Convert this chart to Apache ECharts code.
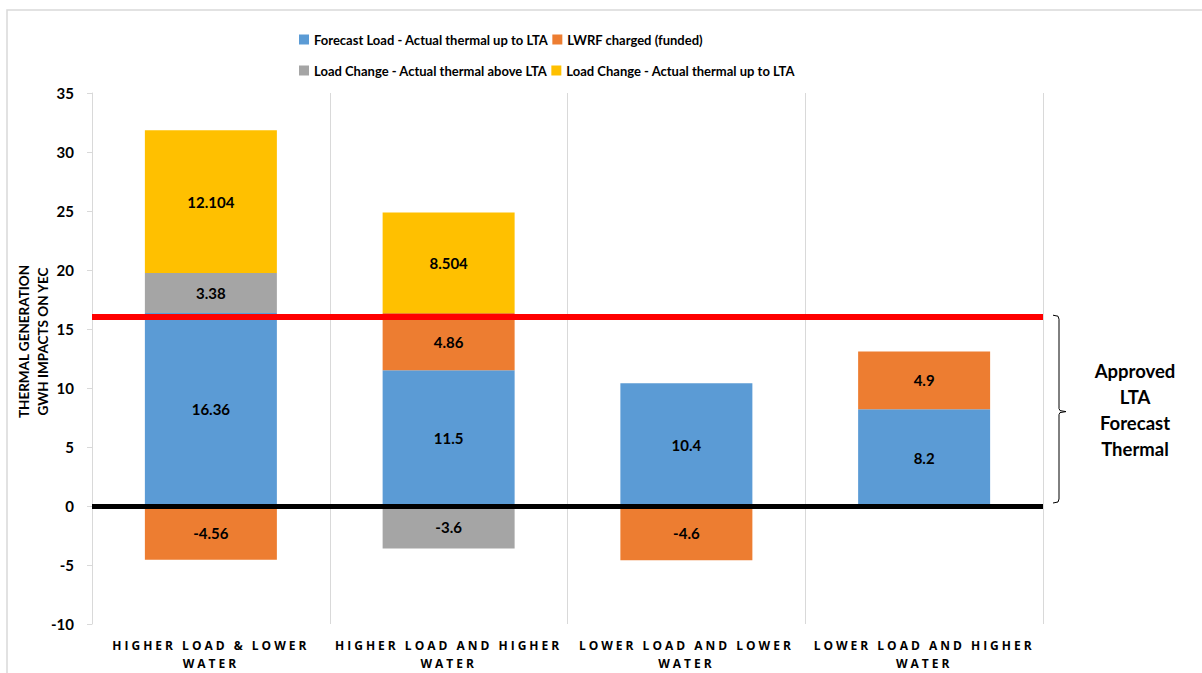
<!DOCTYPE html>
<html>
<head>
<meta charset="utf-8">
<title>Thermal generation GWh impacts on YEC</title>
<script src="https://cdn.jsdelivr.net/npm/echarts@6/dist/echarts.min.js"></script>
<style>
  html, body { margin: 0; padding: 0; background: #ffffff; }
  #chart { width: 1202px; height: 673px; }
  /* widely tracked category labels under the x axis */
  #chart text[style*="Open Sans"] { letter-spacing: 3px; }
</style>
</head>
<body>
<div id="chart"></div>
<script>
// Scenario categories along the x axis
const categories = [
  'HIGHER LOAD & LOWER\nWATER',
  'HIGHER LOAD AND HIGHER\nWATER',
  'LOWER LOAD AND LOWER\nWATER',
  'LOWER LOAD AND HIGHER\nWATER'
];

// Series names
const seriesNames = [
  'Forecast Load - Actual thermal up to LTA',
  'LWRF charged (funded)',
  'Load Change - Actual thermal above LTA',
  'Load Change - Actual thermal up to LTA'
];

// GWh values per scenario ('-' = no segment)
const forecastUpToLTA = [16.36, 11.5, 10.4, 8.2];
const lwrfCharged = [-4.56, 4.86, -4.6, 4.9];
const changeAboveLTA = [3.38, -3.6, '-', '-'];
const changeUpToLTA = [12.104, 8.504, '-', '-'];

// Y axis ticks
const yTicks = { min: -10, max: 35, interval: 5 };

// Reference levels
const approvedLTA = 16;
const zeroLine = 0;

const colors = ['#5B9BD5', '#ED7D31', '#A5A5A5', '#FFC000'];
const seriesValues = [forecastUpToLTA, lwrfCharged, changeAboveLTA, changeUpToLTA];

const FONT = 'Lato';

const chart = echarts.init(document.getElementById('chart'), null, { renderer: 'svg' });

const labelStyle = {
  show: true,
  position: 'inside',
  color: '#000000',
  fontFamily: FONT,
  fontWeight: 'bold',
  fontSize: 15,
  formatter: p => String(p.value)
};

const series = seriesValues.map((vals, i) => ({
  name: seriesNames[i],
  type: 'bar',
  stack: 'total',
  barWidth: 132,
  data: vals,
  itemStyle: { color: colors[i] },
  label: labelStyle,
  emphasis: { disabled: true }
}));

// Reference lines drawn on top of every bar
series[3].markLine = {
  silent: true,
  symbol: ['none', 'none'],
  label: { show: false },
  data: [
    { yAxis: approvedLTA, lineStyle: { color: '#FF0000', width: 6, type: 'solid' } },
    { yAxis: zeroLine, lineStyle: { color: '#000000', width: 5, type: 'solid' } }
  ]
};

const legendText = { fontFamily: FONT, fontWeight: 'bold', fontSize: 13, color: '#000000' };

chart.setOption({
  animation: false,
  backgroundColor: '#ffffff',
  grid: { left: 92, right: 159, top: 93, bottom: 49, containLabel: false, outerBoundsMode: 'none' },
  legend: [
    {
      data: [seriesNames[0], seriesNames[1]],
      left: 294, top: 28,
      icon: 'rect', itemWidth: 10, itemHeight: 10, itemGap: 4,
      textStyle: legendText, selectedMode: false
    },
    {
      data: [seriesNames[2], seriesNames[3]],
      left: 294, top: 59,
      icon: 'rect', itemWidth: 10, itemHeight: 10, itemGap: 4,
      textStyle: legendText, selectedMode: false
    }
  ],
  xAxis: {
    type: 'category',
    data: categories,
    boundaryGap: true,
    axisLine: { show: false },
    axisTick: { show: false },
    splitLine: { show: true, lineStyle: { color: '#D9D9D9', width: 1 } },
    axisLabel: {
      fontFamily: 'Open Sans',
      fontWeight: 'bold',
      fontSize: 12,
      color: '#000000',
      lineHeight: 18,
      margin: 12,
      interval: 0
    }
  },
  yAxis: {
    type: 'value',
    min: yTicks.min,
    max: yTicks.max,
    interval: yTicks.interval,
    name: 'THERMAL GENERATION\nGWH IMPACTS ON YEC',
    nameLocation: 'middle',
    nameRotate: 90,
    nameGap: 40,
    nameMoveOverlap: false,
    nameTextStyle: {
      fontFamily: FONT, fontWeight: 'bold', fontSize: 13.5, color: '#000000',
      lineHeight: 19, padding: [0, 0, 0, 34]
    },
    axisLine: { show: true, lineStyle: { color: '#D9D9D9', width: 1 } },
    axisTick: { show: true, length: 5, lineStyle: { color: '#D9D9D9' } },
    splitLine: { show: false },
    axisLabel: {
      fontFamily: FONT, fontWeight: 'bold', fontSize: 15, color: '#000000', margin: 18
    }
  },
  series
});

// Brace and caption marking the approved LTA band (0 .. approved level)
const yTop = chart.convertToPixel({ yAxisIndex: 0 }, approvedLTA);
const yBot = chart.convertToPixel({ yAxisIndex: 0 }, zeroLine);
const yMid = (yTop + yBot) / 2;
const bx = 1059;

chart.setOption({
  graphic: [
    {
      type: 'rect',
      silent: true,
      shape: { x: 7, y: 10, width: 1400, height: 800 },
      style: { fill: 'none', stroke: '#D9D9D9', lineWidth: 1.5 }
    },
    {
      type: 'polyline',
      silent: true,
      shape: {
        points: [
          [bx - 6, yTop - 2], [bx - 1, yTop - 1], [bx, yTop + 2],
          [bx, yMid - 3], [bx + 1, yMid - 1], [bx + 7, yMid],
          [bx + 1, yMid + 1], [bx, yMid + 3],
          [bx, yBot - 7], [bx - 1, yBot - 4], [bx - 6, yBot - 3]
        ]
      },
      style: { fill: 'none', stroke: '#000000', lineWidth: 1 }
    },
    {
      type: 'text',
      silent: true,
      x: 1135,
      y: yMid - 2,
      style: {
        text: 'Approved\nLTA\nForecast\nThermal',
        fontFamily: FONT,
        fontWeight: 'bold',
        fontSize: 18.5,
        lineHeight: 26,
        fill: '#000000',
        textAlign: 'center',
        textVerticalAlign: 'middle'
      }
    }
  ]
});
</script>
</body>
</html>
